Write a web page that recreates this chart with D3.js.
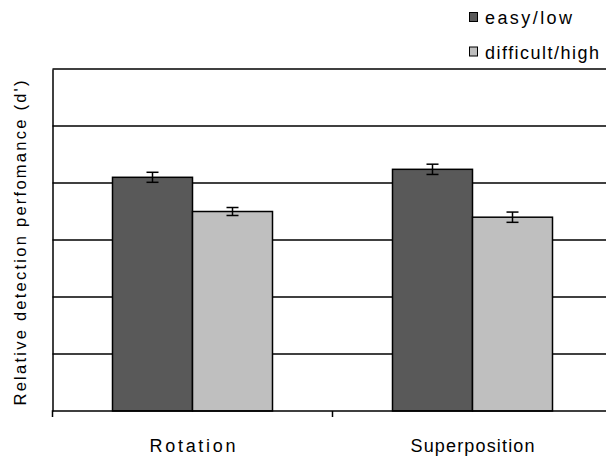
<!DOCTYPE html>
<html><head><meta charset="utf-8">
<script src="https://cdn.jsdelivr.net/npm/d3@7"></script>
<style>body{margin:0;background:#fff}svg{display:block;font-family:"Liberation Sans",Arial,sans-serif}</style>
</head><body><svg id="c" width="606" height="461"></svg>
<script>
const categories = ["Rotation", "Superposition"];
const seriesNames = ["easy/low", "difficult/high"];
const easyValues = [2.05, 2.12];
const difficultValues = [1.75, 1.70];
const easyErrors = [0.044, 0.045];
const difficultErrors = [0.035, 0.045];
const yTicks = [0, 0.5, 1, 1.5, 2, 2.5, 3];
const colors = ["#595959", "#bfbfbf"];

const svg = d3.select("#c");
const m = {left: 52.5, right: 612.5, top: 69, bottom: 411};
const x0 = d3.scaleBand().domain(categories).range([m.left, m.right]).paddingInner(0).paddingOuter(0);
const x1 = d3.scaleBand().domain(seriesNames).range([60, 220]);
const y = d3.scaleLinear().domain([0, 3]).range([m.bottom, m.top]);

// gridlines
svg.append("g").selectAll("line").data(yTicks.filter(t => t > 0)).join("line")
  .attr("x1", m.left).attr("x2", m.right)
  .attr("y1", d => y(d)).attr("y2", d => y(d))
  .attr("stroke", "#000").attr("stroke-width", 1.5);

const data = categories.map((c, i) => ({cat: c, vals: [
  {s: seriesNames[0], v: easyValues[i], e: easyErrors[i], c: colors[0]},
  {s: seriesNames[1], v: difficultValues[i], e: difficultErrors[i], c: colors[1]}]}));

const g = svg.append("g").selectAll("g").data(data).join("g")
  .attr("transform", d => `translate(${x0(d.cat)},0)`);
g.selectAll("rect").data(d => d.vals).join("rect")
  .attr("x", d => x1(d.s)).attr("width", x1.bandwidth())
  .attr("y", d => y(d.v)).attr("height", d => y(0) - y(d.v))
  .attr("fill", d => d.c).attr("stroke", "#000").attr("stroke-width", 1.5);
const eb = g.selectAll("g.eb").data(d => d.vals).join("g").attr("class", "eb")
  .attr("transform", d => `translate(${x1(d.s) + x1.bandwidth()/2},0)`);
eb.append("line").attr("y1", d => y(d.v + d.e)).attr("y2", d => y(d.v - d.e)).attr("stroke", "#000").attr("stroke-width", 1.5);
eb.append("line").attr("x1", -6).attr("x2", 6).attr("y1", d => y(d.v + d.e)).attr("y2", d => y(d.v + d.e)).attr("stroke", "#000").attr("stroke-width", 1.5);
eb.append("line").attr("x1", -6).attr("x2", 6).attr("y1", d => y(d.v - d.e)).attr("y2", d => y(d.v - d.e)).attr("stroke", "#000").attr("stroke-width", 1.5);

// axes
const yAxis = d3.axisLeft(y).tickValues(yTicks).tickSize(0).tickFormat("");
svg.append("g").attr("transform", `translate(${m.left},0)`).call(yAxis)
  .call(s => s.select(".domain").attr("stroke", "#000").attr("stroke-width", 1.5));
const xAxis = d3.axisBottom(x0).tickSize(0).tickPadding(28);
const xa = svg.append("g").attr("transform", `translate(0,${m.bottom})`).call(xAxis);
xa.select(".domain").attr("d", `M${m.left},6V0H${m.right}`).attr("stroke", "#000").attr("stroke-width", 1.5);
const labelWidths = {"Rotation": 86, "Superposition": 124};
xa.selectAll(".tick text").attr("font-size", 18).attr("fill", "#000")
  .attr("font-family", "Liberation Sans, Arial, sans-serif")
  .attr("textLength", d => labelWidths[d]).attr("lengthAdjust", "spacing");
// category boundary tick
svg.append("line").attr("x1", x0("Superposition")).attr("x2", x0("Superposition"))
  .attr("y1", m.bottom).attr("y2", m.bottom + 6).attr("stroke", "#000").attr("stroke-width", 1.5);

// y label
svg.append("text").attr("transform", "translate(26,243) rotate(-90)")
  .attr("text-anchor", "middle").attr("font-size", 16.5)
  .attr("textLength", 325).attr("lengthAdjust", "spacing")
  .text("Relative detection perfomance (d')");

// legend
const legendWidths = [87, 114];
const lg = svg.append("g").selectAll("g").data(seriesNames).join("g")
  .attr("transform", (d, i) => `translate(469.5,${17 + i * 34.5})`);
lg.append("rect").attr("x", 0).attr("y", -4.5).attr("width", 8).attr("height", 9)
  .attr("fill", (d, i) => colors[i]).attr("stroke", "#000").attr("stroke-width", 1);
lg.append("text").attr("x", 15.5).attr("y", 7).attr("font-size", 18)
  .attr("textLength", (d, i) => legendWidths[i]).attr("lengthAdjust", "spacing").text(d => d);
</script></body></html>
